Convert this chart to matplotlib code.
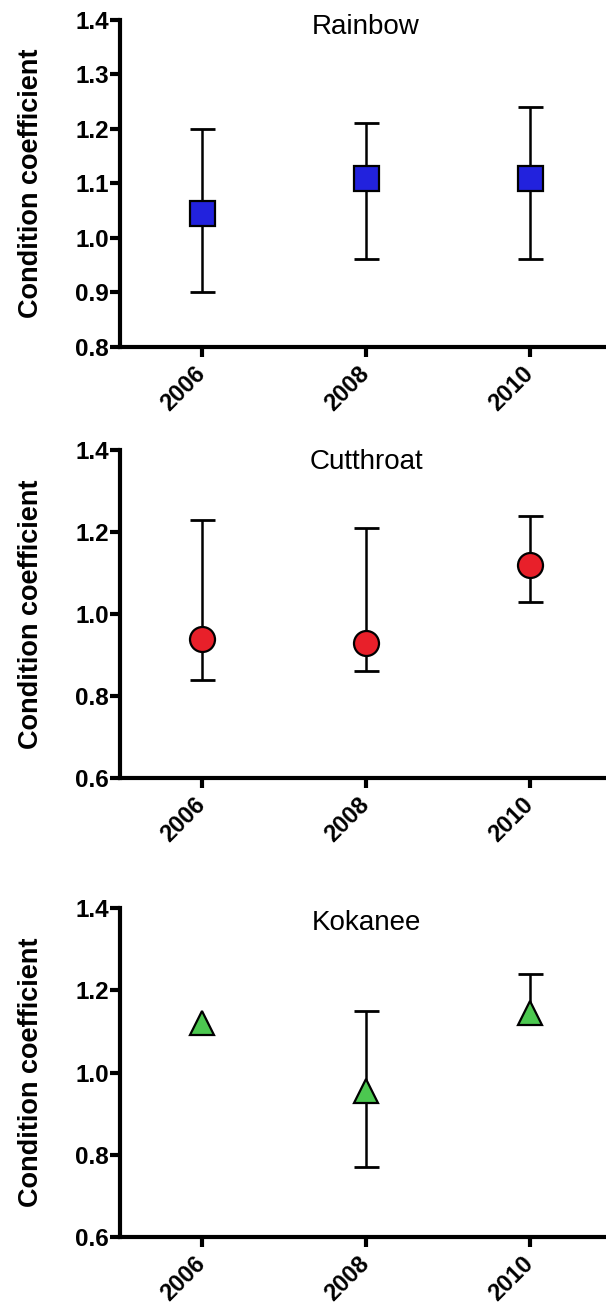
import numpy as np
import matplotlib
matplotlib.use("Agg")
import matplotlib.pyplot as plt

years = [2006, 2008, 2010]
year_labels = ["2006", "2008", "2010"]

species = ["Rainbow", "Cutthroat", "Kokanee"]

rainbow_mean = [1.045, 1.11, 1.11]
rainbow_low = [0.90, 0.96, 0.96]
rainbow_high = [1.20, 1.21, 1.24]

cutthroat_mean = [0.94, 0.93, 1.12]
cutthroat_low = [0.84, 0.86, 1.03]
cutthroat_high = [1.23, 1.21, 1.24]

kokanee_mean = [1.12, 0.955, 1.145]
kokanee_low = [np.nan, 0.77, np.nan]
kokanee_high = [np.nan, 1.15, 1.24]

y_limits = [(0.8, 1.4), (0.6, 1.4), (0.6, 1.4)]
y_steps = [0.1, 0.2, 0.2]

plt.rcParams['font.family'] = ['Liberation Sans', 'DejaVu Sans']

fig = plt.figure(figsize=(6.06, 13.10), dpi=100)
W, H = 606, 1310

# axes boxes in pixels: (left, top, right, bottom)
boxes = [(120, 20, 612, 346.5), (120, 450, 612, 778), (120, 908, 612, 1237)]
title_offsets = [0.979, 0.963, 0.955]

styles = [
    dict(marker='s', color='#2222dd', ms=18),
    dict(marker='o', color='#e8202a', ms=18),
    dict(marker='^', color='#4cc850', ms=17),
]

data = [
    (rainbow_mean, rainbow_low, rainbow_high),
    (cutthroat_mean, cutthroat_low, cutthroat_high),
    (kokanee_mean, kokanee_low, kokanee_high),
]

for i, (box, name, (mean, low, high), st) in enumerate(zip(boxes, species, data, styles)):
    l, t, r, b = box
    ax = fig.add_axes([l / W, 1 - b / H, (r - l) / W, (b - t) / H])
    x = np.array(years, dtype=float)
    m = np.array(mean, dtype=float)
    lo = np.array(low, dtype=float)
    hi = np.array(high, dtype=float)

    # error bars
    has_hi = ~np.isnan(hi)
    vstart = np.where(np.isnan(lo), m, lo)
    ax.vlines(x[has_hi], vstart[has_hi], hi[has_hi], color='black', lw=1.8, zorder=2)
    ax.plot(x[has_hi], hi[has_hi], ls='none', marker='_', ms=18, mew=2.0, color='black', zorder=2)
    has_lo = ~np.isnan(lo)
    ax.plot(x[has_lo], lo[has_lo], ls='none', marker='_', ms=18, mew=2.0, color='black', zorder=2)

    ax.plot(x, m, ls='none', marker=st['marker'], ms=st['ms'], mfc=st['color'],
            mec='black', mew=1.6, zorder=3)

    ax.set_xlim(2005, 2011)
    ax.set_ylim(*y_limits[i])
    ax.set_yticks(np.arange(y_limits[i][0], y_limits[i][1] + 1e-9, y_steps[i]))
    ax.yaxis.set_major_formatter(matplotlib.ticker.FormatStrFormatter('%.1f'))
    ax.set_xticks(years)
    ax.set_xticklabels(year_labels, rotation=45, ha='right', va='center',
                       rotation_mode='anchor')

    for sp in ['top', 'right']:
        ax.spines[sp].set_visible(False)
    for sp in ['left', 'bottom']:
        ax.spines[sp].set_linewidth(3)
    ax.tick_params(axis='both', width=3, length=7)
    ax.tick_params(axis='y', pad=1, labelsize=17.5)
    ax.tick_params(axis='x', pad=10, labelsize=17)
    for lab in ax.get_xticklabels() + ax.get_yticklabels():
        lab.set_fontweight('bold')

    ax.text(0.5, title_offsets[i], name, transform=ax.transAxes, ha='center',
            va='center', fontsize=20)
    ax.text(-0.18, 0.5, 'Condition coefficient', transform=ax.transAxes,
            rotation=90, ha='center', va='center', fontsize=19.5, fontweight='bold')
    ax.patch.set_alpha(0)

fig.savefig('out.png', dpi=100)
